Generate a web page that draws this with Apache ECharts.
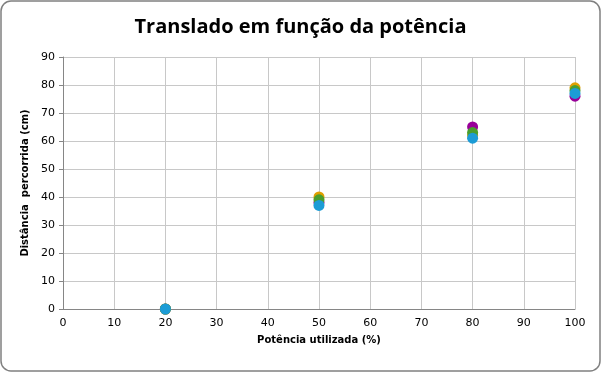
<!DOCTYPE html>
<html><head><meta charset="utf-8">
<script src="https://cdn.jsdelivr.net/npm/echarts@6/dist/echarts.min.js"></script>
<style>html,body{margin:0;padding:0;background:#fff}#c{width:601px;height:372px}</style>
</head><body><div id="c"></div>
<script>
const potencia = [20, 50, 80, 100];
const serieNames = ['Ensaio 1', 'Ensaio 2', 'Ensaio 3', 'Ensaio 4'];
const purpleVals = [0, 38, 65, 76];
const orangeVals = [0, 40, 62, 79];
const greenVals = [0, 39, 63, 78];
const blueVals = [0, 37, 61, 77];
const colors = ['#990099', '#E0A000', '#4A9E2E', '#1C9CD6'];
const xTicks = [0,10,20,30,40,50,60,70,80,90,100];
const yTicks = [0,10,20,30,40,50,60,70,80,90];

const all = [purpleVals, orangeVals, greenVals, blueVals];
const chart = echarts.init(document.getElementById('c'));
chart.setOption({
  animation: false,
  graphic: [{type:'rect', shape:{x:1,y:1,width:599,height:370,r:10}, style:{fill:'none', stroke:'#808080', lineWidth:1.5}, z:-1}],
  title: {text:'Translado em função da potência', left:'center', top:12,
    textStyle:{fontFamily:'Open Sans', fontWeight:'bold', fontSize:20, color:'#000'}},
  grid: {left:63, right:26, top:57, bottom:63},
  xAxis: {type:'value', min:0, max:100, interval:10,
    name:'Potência utilizada (%)', nameLocation:'middle', nameGap:26,
    nameTextStyle:{fontFamily:'DejaVu Sans', fontWeight:'bold', fontSize:10, color:'#000'},
    axisLine:{show:true, lineStyle:{color:'#868686'}}, axisTick:{show:false},
    axisLabel:{fontFamily:'DejaVu Sans', fontSize:11, color:'#000', margin:9},
    splitLine:{show:true, lineStyle:{color:'#C8C8C8'}}},
  yAxis: {type:'value', min:0, max:90, interval:10,
    name:'Distância  percorrida (cm)', nameLocation:'middle', nameGap:33,
    nameTextStyle:{fontFamily:'DejaVu Sans', fontWeight:'bold', fontSize:10, color:'#000'},
    axisLine:{show:true, lineStyle:{color:'#868686'}}, axisTick:{show:true, length:4, lineStyle:{color:'#868686'}},
    axisLabel:{fontFamily:'DejaVu Sans', fontSize:11, color:'#000', margin:8},
    splitLine:{show:true, lineStyle:{color:'#C8C8C8'}}},
  series: all.map((vals, i) => ({
    name: serieNames[i], type:'scatter', symbol:'circle', symbolSize:11,
    itemStyle:{color:colors[i], opacity:1},
    data: potencia.map((p, j) => [p, vals[j]])
  }))
});
</script></body></html>
